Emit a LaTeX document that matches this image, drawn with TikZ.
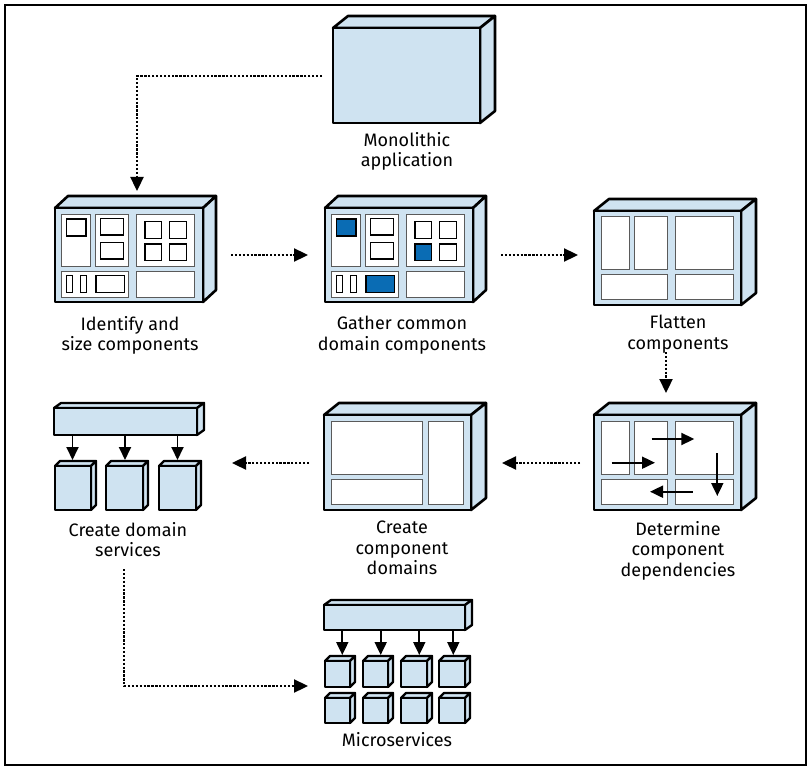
\documentclass[tikz,border=0pt]{standalone}
\usepackage{fontspec}
\setmainfont{Fira Sans}
\usetikzlibrary{arrows.meta}
\definecolor{boxblue}{HTML}{CFE3F1}
\definecolor{darkblue}{HTML}{0A6CB4}
\definecolor{panegray}{HTML}{5A5A5A}
\tikzset{
  boxline/.style={draw=black, fill=boxblue, line width=2.6pt, line join=round},
  cubeline/.style={draw=black, fill=boxblue, line width=2.3pt, line join=round},
  panebox/.style={draw=panegray, fill=white, line width=1.3pt},
  smallbox/.style={draw=black, fill=white, line width=1.3pt},
  bluebox/.style={draw=black, fill=darkblue, line width=1.3pt},
  flow/.style={line width=2.3pt, dash pattern=on 2.3pt off 1.6pt, -{Triangle[length=14pt,width=13pt]}},
  dep/.style={line width=1.9pt, -{Triangle[length=13pt,width=12pt]}},
  lbl/.style={align=center, font=\fontsize{18}{20.5}\selectfont, inner sep=0pt, anchor=north},
}
% x1 y1 x2 y2 dx dy (y grows downward)
\newcommand\mycuboid[7][boxline]{%
  \filldraw[#1] (#2,#3) -- ({#2+#6},{#3-#7}) -- ({#4+#6},{#3-#7}) -- (#4,#3) -- cycle;
  \filldraw[#1] (#4,#3) -- ({#4+#6},{#3-#7}) -- ({#4+#6},{#5-#7}) -- (#4,#5) -- cycle;
  \filldraw[#1] (#2,#3) rectangle (#4,#5);
}
\begin{document}
\begin{tikzpicture}[x=1pt,y=-1pt]
\useasboundingbox (0,0) rectangle (811,770);
\draw[line width=1.5pt] (5,5) rectangle (806,765);

% ---------- Monolithic application
\mycuboid{333}{28}{480}{123}{15}{12}
\node[lbl] (lmono) at (407,132) {Monolithic\\application};

% ---------- Identify and size components
\mycuboid{55}{208}{203}{302}{13}{12}
\filldraw[panebox] (61.7,214.3) rectangle (90.7,266.7);
\filldraw[panebox] (95.7,214.3) rectangle (128.3,266.7);
\filldraw[panebox] (136.7,214.3) rectangle (194.3,266.7);
\filldraw[panebox] (61.7,271.7) rectangle (128.3,297.3);
\filldraw[panebox] (136.7,271.7) rectangle (194.3,297.3);
\filldraw[smallbox] (66.7,219) rectangle (86,236);
\filldraw[smallbox] (100.7,218.3) rectangle (123.3,235);
\filldraw[smallbox] (100.7,242.3) rectangle (123.3,259);
\filldraw[smallbox] (145,221.7) rectangle (161.7,238.3);
\filldraw[smallbox] (169.3,221.7) rectangle (186.7,238.3);
\filldraw[smallbox] (145,244) rectangle (161.7,260.7);
\filldraw[smallbox] (169.3,244) rectangle (186.7,260.7);
\filldraw[smallbox] (66.7,275.7) rectangle (72.3,292.3);
\filldraw[smallbox] (80.7,275.7) rectangle (86.7,292.3);
\filldraw[smallbox] (96,275.7) rectangle (124.3,292.3);
\node[lbl] (lident) at (130,316) {Identify and\\size components};

% ---------- Gather common domain components
\begin{scope}[shift={(270,0)}]
\mycuboid{55}{208}{203}{302}{13}{12}
\filldraw[panebox] (61.7,214.3) rectangle (90.7,266.7);
\filldraw[panebox] (95.7,214.3) rectangle (128.3,266.7);
\filldraw[panebox] (136.7,214.3) rectangle (194.3,266.7);
\filldraw[panebox] (61.7,271.7) rectangle (128.3,297.3);
\filldraw[panebox] (136.7,271.7) rectangle (194.3,297.3);
\filldraw[bluebox] (66.7,219) rectangle (86,236);
\filldraw[smallbox] (100.7,218.3) rectangle (123.3,235);
\filldraw[smallbox] (100.7,242.3) rectangle (123.3,259);
\filldraw[smallbox] (145,221.7) rectangle (161.7,238.3);
\filldraw[smallbox] (169.3,221.7) rectangle (186.7,238.3);
\filldraw[bluebox] (145,244) rectangle (161.7,260.7);
\filldraw[smallbox] (169.3,244) rectangle (186.7,260.7);
\filldraw[smallbox] (66.7,275.7) rectangle (72.3,292.3);
\filldraw[smallbox] (80.7,275.7) rectangle (86.7,292.3);
\filldraw[bluebox] (96,275.7) rectangle (124.3,292.3);
\end{scope}
\node[lbl] (lgather) at (402,316) {Gather common\\domain components};

% ---------- Flatten components
\mycuboid{594}{211}{741}{305}{15}{12}
\filldraw[panebox] (601.7,216.7) rectangle (629.5,269.3);
\filldraw[panebox] (634.8,216.7) rectangle (667.7,269.3);
\filldraw[panebox] (675.7,216.7) rectangle (733.3,269.3);
\filldraw[panebox] (601.7,274.3) rectangle (667.7,299.3);
\filldraw[panebox] (675.7,274.3) rectangle (733.3,299.3);
\node[lbl] (lflat) at (678,315) {Flatten\\components};

% ---------- Determine component dependencies
\mycuboid{594}{415}{741}{510}{15}{12}
\filldraw[panebox] (601.7,421.7) rectangle (629.5,474.3);
\filldraw[panebox] (634.8,421.7) rectangle (667.7,474.3);
\filldraw[panebox] (675.7,421.7) rectangle (733.3,474.3);
\filldraw[panebox] (601.7,479.3) rectangle (667.7,504.3);
\filldraw[panebox] (675.7,479.3) rectangle (733.3,504.3);
\draw[dep] (651.7,439) -- (694.3,439);
\draw[dep] (611.7,462.7) -- (655,462.7);
\draw[dep] (717.3,453.3) -- (717.3,496);
\draw[dep] (692.7,491.7) -- (650,491.7);
\node[lbl] (ldet) at (678,521) {Determine\\component\\dependencies};

% ---------- Create component domains
\mycuboid{324}{415}{471}{510}{15}{12}
\filldraw[panebox] (331.7,421.7) rectangle (422.7,474.3);
\filldraw[panebox] (331.7,479.3) rectangle (422.7,504.3);
\filldraw[panebox] (428.3,421.7) rectangle (463.3,504.3);
\node[lbl] (ldom) at (402,521) {Create\\component\\domains};

% ---------- Create domain services
\mycuboid[cubeline]{54}{408}{197}{435}{7}{5}
\mycuboid[cubeline]{55}{466}{91}{510}{5}{5}
\mycuboid[cubeline]{106}{466}{143}{510}{5}{5}
\mycuboid[cubeline]{159}{466}{196}{510}{5}{5}
\draw[dep] (72.5,435) -- (72.5,460);
\draw[dep] (125,435) -- (125,460);
\draw[dep] (177.5,435) -- (177.5,460);
\node[lbl] (lserv) at (128,522) {Create domain\\services};

% ---------- Microservices
\mycuboid[cubeline]{324}{605}{465}{630}{7}{5}
\foreach \xa/\xb in {325/350, 363/388, 401/427, 439/465}{
  \mycuboid[cubeline]{\xa}{661}{\xb}{687}{5}{5}
  \mycuboid[cubeline]{\xa}{698}{\xb}{723}{5}{5}
}
\draw[dep] (342.3,630) -- (342.3,655);
\draw[dep] (380.7,630) -- (380.7,655);
\draw[dep] (419.3,630) -- (419.3,655);
\draw[dep] (453.3,630) -- (453.3,655);
\node[lbl] (lmicro) at (397,732) {Microservices};

% ---------- connectors
\coordinate (monoout) at (322,76);
\coordinate (identin) at (137,191);
\coordinate (identout) at (231,255);
\coordinate (gatherin) at (308,255);
\coordinate (gatherout) at (501,255);
\coordinate (flatin) at (578,255);
\coordinate (flatout) at (666,352);
\coordinate (detin) at (666,393);
\coordinate (detout) at (580,463);
\coordinate (domin) at (502,463);
\coordinate (domout) at (309,463);
\coordinate (servin) at (232,463);
\coordinate (servout) at (124,569);
\coordinate (microin) at (308,686);
\draw[flow] (monoout) -| (identin);
\draw[flow] (identout) -- (gatherin);
\draw[flow] (gatherout) -- (flatin);
\draw[flow] (flatout) -- (detin);
\draw[flow] (detout) -- (domin);
\draw[flow] (domout) -- (servin);
\draw[flow] (servout) |- (microin);
\end{tikzpicture}
\end{document}
